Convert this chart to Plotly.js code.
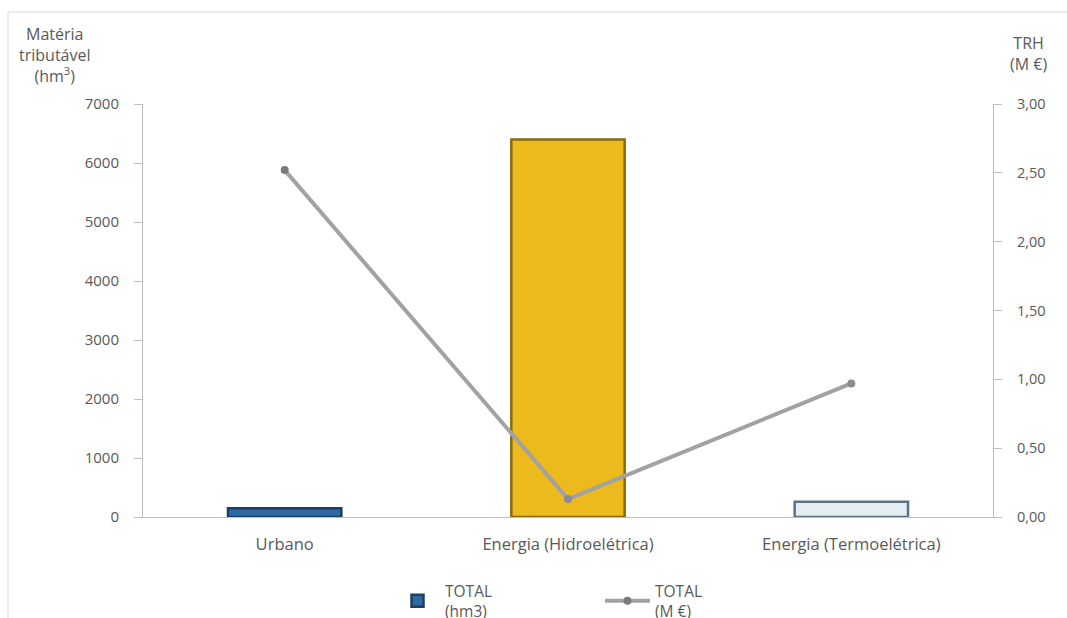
<!DOCTYPE html>
<html><head><meta charset="utf-8">
<script src="https://cdn.plot.ly/plotly-3.0.1.min.js"></script>
<style>html,body{margin:0;padding:0;background:#fff}#c{width:1067px;height:618px}</style>
</head><body><div id="c"></div>
<script>
const categories = ["Urbano", "Energia (Hidroelétrica)", "Energia (Termoelétrica)"];
const volumeHm3 = [150, 6400, 260];
const trhMEuro = [2.52, 0.13, 0.97];
const barNames = "TOTAL<br>(hm3)";
const lineName = "TOTAL<br>(M €)";

const fam = "Open Sans, Noto Sans, sans-serif";
const grey = "#595959";
const font = {family: fam, size: 14.5, color: grey};

const bars = {
  type: "bar", x: categories, y: volumeHm3, name: barNames, yaxis: "y",
  width: 0.4,
  marker: {color: ["#2f6aa6", "#ecba1c", "#e4edf4"],
           line: {color: ["#1c3f66", "#8a6a08", "#5d7283"], width: 2.5}},
  hoverinfo: "x+y"
};
const line = {
  type: "scatter", mode: "lines+markers", x: categories, y: trhMEuro, name: lineName,
  yaxis: "y2",
  line: {color: "#a2a2a2", width: 4},
  marker: {color: ["#7a7a7a", "#8a8a9a", "#8c8c8c"], size: 8}
};

const layout = {
  width: 1067, height: 618,
  margin: {l: 143, r: 74, t: 104, b: 101, autoexpand: false},
  paper_bgcolor: "#fff", plot_bgcolor: "#fff",
  separators: ",.",
  font: font,
  showlegend: true,
  xaxis: {showline: true, linecolor: "#bfbfbf", linewidth: 1, ticks: "",
          tickfont: {family: fam, size: 16.5, color: grey},
          ticklabelstandoff: 12, showgrid: false, zeroline: false, automargin: false},
  yaxis: {range: [0, 7000], dtick: 1000, showgrid: false, zeroline: false, automargin: false,
          showline: true, linecolor: "#bfbfbf", ticks: "outside", ticklen: 8, tickcolor: "#bfbfbf",
          tickfont: {family: fam, size: 15, color: grey}, ticklabelstandoff: 12},
  yaxis2: {range: [0, 3], dtick: 0.5, tickformat: ".2f", overlaying: "y", side: "right", automargin: false,
           showgrid: false, zeroline: false, showline: true, linecolor: "#bfbfbf",
           ticks: "outside", ticklen: 8, tickcolor: "#bfbfbf",
           tickfont: {family: fam, size: 14.5, color: grey}, ticklabelstandoff: 12},
  legend: {orientation: "h", x: (600 - 143) / 850, xanchor: "center", y: -0.138, yanchor: "top",
           font: {family: fam, size: 15.5, color: grey}, itemwidth: 45, entrywidth: 150},
  annotations: [
    {text: "Matéria<br>tributável<br>(hm<sup>3</sup>)", xref: "paper", yref: "paper",
     x: (55 - 143) / 850, y: 1.2, xanchor: "center", yanchor: "top", showarrow: false, align: "center",
     font: {family: fam, size: 16, color: grey}},
    {text: "TRH<br>(M €)", xref: "paper", yref: "paper",
     x: (1028 - 143) / 850, y: 1.18, xanchor: "center", yanchor: "top", showarrow: false, align: "center",
     font: {family: fam, size: 16, color: grey}}
  ],
  shapes: [
    {type: "rect", xref: "paper", yref: "paper", x0: (8 - 143) / 850, x1: (1080 - 143) / 850,
     y0: -0.3, y1: (517 - 12) / 413,
     line: {color: "#d9d9d9", width: 1}, fillcolor: "rgba(0,0,0,0)", layer: "below"}
  ]
};

Plotly.newPlot("c", [bars, line], layout, {displayModeBar: false, staticPlot: true});
</script></body></html>
